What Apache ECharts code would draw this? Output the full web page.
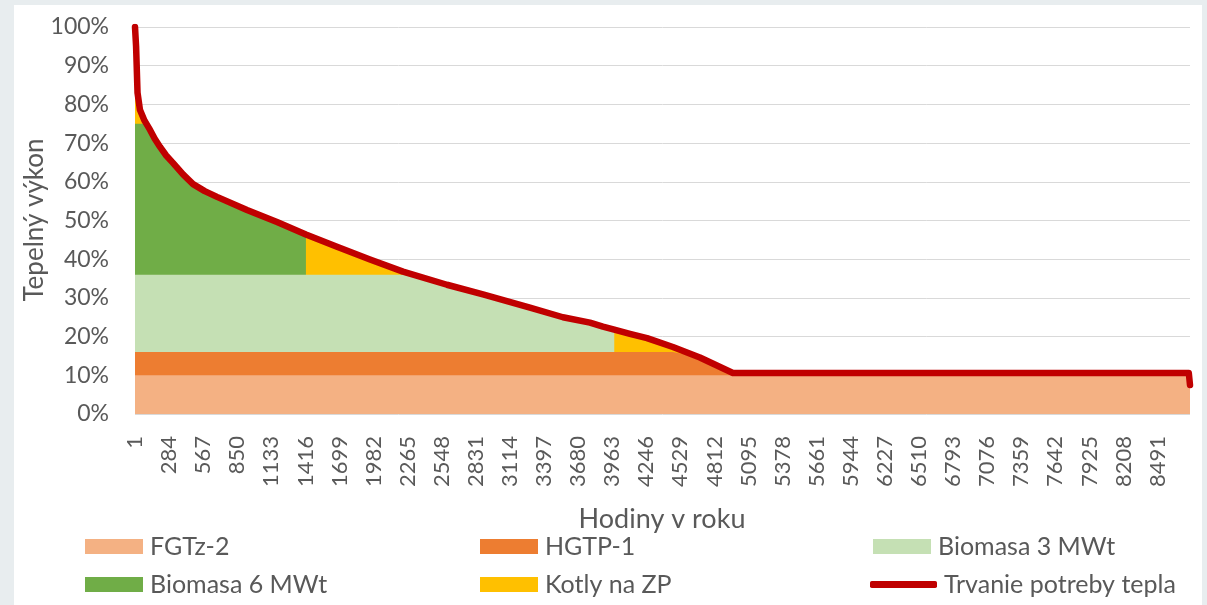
<!DOCTYPE html>
<html>
<head>
<meta charset="utf-8">
<script src="https://cdn.jsdelivr.net/npm/echarts@6/dist/echarts.min.js"></script>
<style>
  html, body { margin: 0; padding: 0; background: #E8EDEF; }
  #panel { position: absolute; left: 14px; top: 5px; width: 1188px; height: 600px; background: #FFFFFF; }
  #chart { position: absolute; left: 0; top: 0; width: 1207px; height: 605px; }
</style>
</head>
<body>
<div id="panel"></div>
<div id="chart"></div>
<script>
// Load duration curve (hour of year, % of peak heat output)
const hours  = [1, 10, 22, 42, 80, 126, 165, 209, 260, 316, 400, 483, 580, 682, 931, 1180, 1420, 1678, 1952, 2226, 2591, 2890, 3280, 3554, 3778, 3886, 3980, 4110, 4252, 4467, 4691, 4965, 8750, 8760];
const demand = [100, 95, 83, 78.6, 75.8, 73.4, 71.1, 69.0, 66.8, 64.9, 61.9, 59.4, 57.6, 56.1, 52.7, 49.6, 46.4, 43.2, 39.9, 36.8, 33.4, 30.9, 27.5, 25.0, 23.6, 22.6, 21.8, 20.7, 19.6, 17.3, 14.6, 10.6, 10.6, 7.5];

// Source layers: name, upper bound of the layer (% of peak), last hour it runs
const layerNames = ['FGTz-2', 'HGTP-1', 'Biomasa 3 MWt', 'Biomasa 6 MWt', 'Kotly na ZP'];
const layerTops  = [10, 16, 36, 75, 100];
const layerEnds  = [8760, 8760, 3980, 1420, 8760];
const layerColors = ['#F4B183', '#ED7D31', '#C5E0B4', '#70AD47', '#FFC000'];
const curveName = 'Trvanie potreby tepla';
const curveColor = '#C00000';

// x-axis tick labels
const xTicks = [1, 284, 567, 850, 1133, 1416, 1699, 1982, 2265, 2548, 2831, 3114, 3397, 3680, 3963, 4246, 4529, 4812, 5095, 5378, 5661, 5944, 6227, 6510, 6793, 7076, 7359, 7642, 7925, 8208, 8491];

const FONT = 'Lato';
const GREY = '#595959';

function layerData(top, end) {
  const pts = [];
  for (let i = 0; i < hours.length; i++) {
    if (hours[i] <= end) pts.push([hours[i], Math.min(demand[i], top)]);
  }
  if (end < hours[hours.length - 1]) pts.push([end, 0]);
  return pts;
}

const series = [];
// draw from the top layer down so lower layers paint over upper ones
for (let k = layerNames.length - 1; k >= 0; k--) {
  series.push({
    name: layerNames[k],
    type: 'line',
    data: layerData(layerTops[k], layerEnds[k]),
    showSymbol: false,
    symbol: 'none',
    lineStyle: { width: 0, opacity: 0 },
    itemStyle: { color: layerColors[k] },
    areaStyle: { color: layerColors[k], opacity: 1 },
    z: 2,
    silent: true
  });
}
series.push({
  name: curveName,
  type: 'line',
  data: hours.map((h, i) => [h, demand[i]]),
  showSymbol: false,
  symbol: 'none',
  lineStyle: { width: 6.5, color: curveColor, cap: 'round', join: 'round' },
  itemStyle: { color: curveColor },
  z: 5,
  silent: true
});

const legendOrder = [
  { name: layerNames[0], color: layerColors[0], left: 85,  top: 534, h: 15 },
  { name: layerNames[1], color: layerColors[1], left: 480, top: 534, h: 15 },
  { name: layerNames[2], color: layerColors[2], left: 873, top: 534, h: 15 },
  { name: layerNames[3], color: layerColors[3], left: 85,  top: 572, h: 15 },
  { name: layerNames[4], color: layerColors[4], left: 480, top: 572, h: 15 },
  { name: curveName,     color: curveColor,     left: 870, top: 572, h: 7 }
];
const legends = legendOrder.map(l => ({
  data: [{ name: l.name, icon: l.h === 7 ? 'roundRect' : 'rect' }],
  left: l.left,
  top: l.top,
  padding: 0,
  itemWidth: l.h === 7 ? 67 : 58,
  itemHeight: l.h,
  itemGap: 0,
  selectedMode: false,
  itemStyle: { color: l.color, opacity: 1, borderWidth: 0 },
  lineStyle: { width: 0 },
  textStyle: { fontFamily: FONT, fontSize: 25, color: GREY, padding: [0, 0, 0, 2] }
}));

const chart = echarts.init(document.getElementById('chart'), null, { renderer: 'canvas' });
chart.setOption({
  animation: false,
  backgroundColor: 'transparent',
  grid: { left: 135, right: 17, top: 27, bottom: 191, containLabel: false, outerBoundsMode: 'none' },
  xAxis: {
    type: 'value',
    min: 1,
    max: 8760,
    axisLine: { show: false },
    axisTick: { show: false },
    splitLine: { show: false },
    axisLabel: {
      customValues: xTicks,
      formatter: v => String(v),
      rotate: 90,
      margin: 22,
      fontFamily: FONT,
      fontSize: 22,
      color: GREY
    }
  },
  yAxis: {
    type: 'value',
    min: 0,
    max: 100,
    interval: 10,
    axisLine: { show: false },
    axisTick: { show: false },
    splitLine: { lineStyle: { color: '#D9D9D9', width: 1 } },
    axisLabel: { formatter: '{value}%', margin: 26, fontFamily: FONT, fontSize: 23, color: GREY }
  },
  legend: legends,
  graphic: [
    {
      type: 'text',
      x: 662, y: 519,
      style: { text: 'Hodiny v roku', fontFamily: FONT, fontSize: 27, fill: GREY, textAlign: 'center', textVerticalAlign: 'middle' }
    },
    {
      type: 'text',
      x: 35, y: 220,
      rotation: Math.PI / 2,
      style: { text: 'Tepelný výkon', fontFamily: FONT, fontSize: 26, fill: GREY, textAlign: 'center', textVerticalAlign: 'middle' }
    }
  ],
  series: series
});
</script>
</body>
</html>
